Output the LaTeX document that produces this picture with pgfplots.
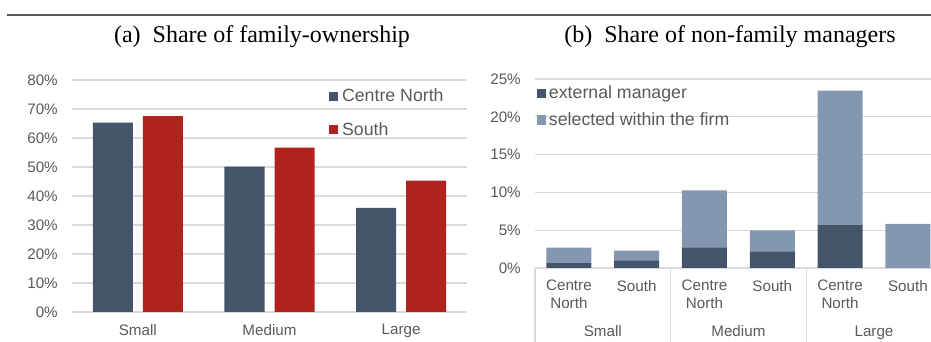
\documentclass[border=0pt]{standalone}
\usepackage{fontspec}
\setmainfont{Liberation Serif}
\newfontfamily\arial{Liberation Sans}
\usepackage{pgfplots}
\pgfplotsset{compat=1.18}
\definecolor{cdark}{HTML}{44546A}
\definecolor{cred}{HTML}{B0231C}
\definecolor{clight}{HTML}{8497B0}
\definecolor{cgrid}{HTML}{D9D9D9}
\definecolor{ctext}{HTML}{595959}
\pgfplotsset{
 sq/.style={legend image code/.code={\fill[##1] (0pt,-3.4pt) rectangle (6.8pt,3.4pt);}},
 common/.style={
  scale only axis, axis line style={draw=none}, major tick length=0pt,
  ymajorgrids, grid style={cgrid, line width=0.8pt},
  ymin=0, xmin=-0.5, clip=false,
  tick label style={font=\arial\fontsize{11.4}{13.5}\selectfont, text=ctext},
  yticklabel style={anchor=east, inner sep=0pt, xshift=-10.5pt},
  yticklabel={\pgfmathprintnumber[assume math mode=true]{\tick}\%},
  xticklabel style={anchor=north, inner sep=0pt, yshift=-9pt},
  legend cell align=left,
}}
\begin{document}
\begin{tikzpicture}
\useasboundingbox (0,0) rectangle (698.25pt,256.5pt);
\draw[color=black!65, line width=0.8pt] (5pt,245.25pt) -- (698.25pt,245.25pt);
\node[anchor=base, font=\fontsize{18}{20}\selectfont, inner sep=0pt] at (196.5pt,224.25pt) {(a)\hspace{0.5em}Share of family-ownership};
\node[anchor=base, font=\fontsize{18}{20}\selectfont, inner sep=0pt] at (547.5pt,224.25pt) {(b)\hspace{0.5em}Share of non-family managers};

\begin{axis}[common, at={(54pt,22.5pt)}, anchor=south west,
  width=296.25pt, height=174pt, ymax=80, xmax=2.5,
  ytick={0,10,...,80}, xtick={0,1,2}, xticklabels={Small,Medium,Large},
  ybar=7.5pt, bar width=30pt,
  legend style={draw=none, fill=none, at={(0.65,0.975)}, anchor=north west,
    font=\arial\fontsize{13.3}{16}\selectfont, text=ctext, row sep=10pt, inner sep=0pt,
    nodes={inner xsep=3pt}}]
\addplot[fill=cdark, draw=none, sq] coordinates {(0,65.3) (1,50.1) (2,35.9)};
\addplot[fill=cred, draw=none, sq] coordinates {(0,67.5) (1,56.7) (2,45.3)};
\legend{Centre North, South}
\end{axis}

\begin{axis}[common, at={(401.25pt,55.5pt)}, anchor=south west,
  width=297.45pt, height=141.75pt, ymax=25, xmax=5.35,
  ytick={0,5,...,25}, xtick={0,...,5},
  xticklabels={{Centre\\North},South,{Centre\\North},South,{Centre\\North},South},
  xticklabel style={align=center},
  ybar stacked, bar width=33.75pt,
  legend style={draw=none, fill=none, at={(0.005,0.98)}, anchor=north west,
    font=\arial\fontsize{13.3}{16}\selectfont, text=ctext, row sep=5pt, inner sep=0pt,
    nodes={inner xsep=2pt}}]
\addplot[fill=cdark, draw=none, sq] coordinates {(0,0.66) (1,1.0) (2,2.73) (3,2.2) (4,5.73) (5,0)};
\addplot[fill=clight, draw=none, sq] coordinates {(0,2.03) (1,1.3) (2,7.54) (3,2.78) (4,17.73) (5,5.82)};
\legend{external manager, selected within the firm}
\draw[cgrid, line width=0.8pt] (axis cs:-0.5,0) -- ++(0pt,-60pt);
\draw[cgrid, line width=0.8pt] (axis cs:1.5,0) -- ++(0pt,-60pt);
\draw[cgrid, line width=0.8pt] (axis cs:3.5,0) -- ++(0pt,-60pt);
\node[anchor=base, yshift=-51.75pt, font=\arial\fontsize{11.4}{13.5}\selectfont, text=ctext] at (axis cs:0.5,0) {Small};
\node[anchor=base, yshift=-51.75pt, font=\arial\fontsize{11.4}{13.5}\selectfont, text=ctext] at (axis cs:2.5,0) {Medium};
\node[anchor=base, yshift=-51.75pt, font=\arial\fontsize{11.4}{13.5}\selectfont, text=ctext] at (axis cs:4.5,0) {Large};
\end{axis}
\end{tikzpicture}
\end{document}
